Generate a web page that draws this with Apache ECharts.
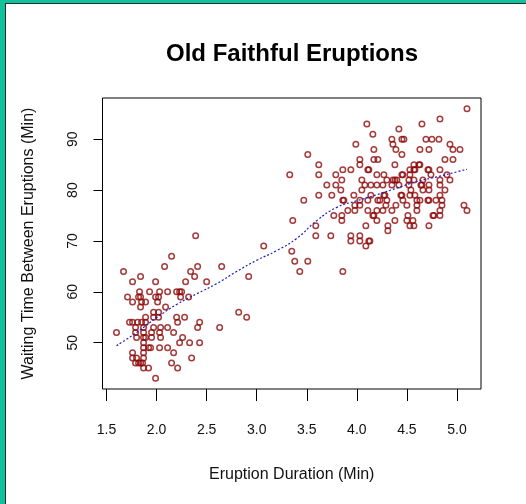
<!DOCTYPE html>
<html>
<head>
<meta charset="utf-8">
<title>Old Faithful Eruptions</title>
<script src="https://cdn.jsdelivr.net/npm/echarts@6.0.0/dist/echarts.min.js"></script>
<style>
  html, body { margin: 0; padding: 0; background: #fff; overflow: hidden; }
  #wrap { position: relative; width: 526px; height: 504px; }
  #chart { position: absolute; left: 0; top: 0; width: 526px; height: 504px; }
  .edge { position: absolute; }
</style>
</head>
<body>
<div id="wrap">
  <div id="chart"></div>
  <div class="edge" style="left:0;top:0;width:526px;height:3px;background:#0fc29b;"></div>
  <div class="edge" style="left:5px;top:3px;width:521px;height:1px;background:#2b2b2b;"></div>
  <div class="edge" style="left:0;top:0;width:5px;height:504px;background:#0fc29b;"></div>
  <div class="edge" style="left:5px;top:3px;width:1px;height:501px;background:#2b2b2b;"></div>
</div>
<script>
// eruption duration (min) / waiting time (min)
const eruptions = [
  2.39, 2.15, 2.08, 2.41, 2.65, 1.67, 2.34, 1.84, 2.38, 2.92,
  1.76, 1.99, 2.29, 2.50, 1.83, 1.93, 2.03, 2.11, 2.20, 2.23,
  2.25, 1.71, 1.82, 1.84, 1.99, 2.02, 2.24, 2.32, 1.76, 1.85,
  1.89, 2.01, 1.84, 2.09, 1.97, 2.02, 2.82, 1.89, 1.97, 2.02,
  2.20, 2.28, 2.90, 1.73, 1.76, 1.81, 1.85, 1.89, 2.21, 2.43,
  1.79, 1.87, 1.97, 2.04, 2.11, 2.41, 2.63, 1.60, 1.79, 1.87,
  1.95, 2.03, 2.17, 1.80, 1.87, 1.89, 1.95, 2.04, 2.26, 1.87,
  2.23, 2.33, 2.43, 1.87, 1.92, 1.94, 2.03, 2.11, 1.76, 1.87,
  2.17, 1.76, 1.80, 1.87, 2.35, 1.79, 1.82, 1.84, 1.86, 2.15,
  1.87, 1.92, 2.21, 1.99,
  3.07, 3.35, 3.38, 3.51, 3.43, 3.86, 3.33, 3.36, 3.47, 3.51,
  3.59, 3.59, 3.62, 3.62, 3.62, 3.70, 3.74, 3.75, 3.77, 3.79,
  3.79, 3.84, 3.85, 3.85, 3.85, 3.86, 3.86, 3.87, 3.91, 3.94,
  3.94, 3.94, 3.97, 3.98, 3.98, 3.99, 4.03, 4.03, 4.03, 4.03,
  4.03, 4.03, 4.05, 4.05, 4.08, 4.09, 4.09, 4.10, 4.11, 4.12,
  4.11, 4.11, 4.12, 4.13, 4.14, 4.14, 4.16, 4.16, 4.17, 4.17,
  4.17, 4.20, 4.20, 4.20, 4.20, 4.21, 4.21, 4.23, 4.26, 4.26,
  4.27, 4.28, 4.27, 4.29, 4.30, 4.30, 4.31, 4.31, 4.35, 4.35,
  4.35, 4.36, 4.36, 4.38, 4.38, 4.38, 4.39, 4.39, 4.40, 4.42,
  4.42, 4.45, 4.45, 4.45, 4.46, 4.45, 4.44, 4.46, 4.47, 4.50,
  4.50, 4.51, 4.52, 4.52, 4.53, 4.53, 4.53, 4.53, 4.54, 4.56,
  4.57, 4.57, 4.58, 4.57, 4.57, 4.58, 4.60, 4.60, 4.60, 4.62,
  4.63, 4.63, 4.63, 4.64, 4.65, 4.65, 4.66, 4.66, 4.69, 4.71,
  4.72, 4.71, 4.72, 4.72, 4.72, 4.72, 4.72, 4.74, 4.75, 4.76,
  4.77, 4.79, 4.82, 4.83, 4.83, 4.83, 4.83, 4.83, 4.83, 4.83,
  4.85, 4.85, 4.88, 4.88, 4.90, 4.93, 4.93, 4.96, 4.96, 5.03,
  5.07, 5.10, 5.10
];
const waiting = [
  71, 67, 65, 65, 65, 64, 64, 63, 63, 63,
  62, 62, 62, 62, 60, 60, 60, 60, 60, 60,
  60, 59, 59, 59, 59, 59, 59, 59, 58, 58,
  58, 58, 57, 57, 56, 56, 56, 55, 55, 55,
  55, 55, 55, 54, 54, 54, 54, 54, 54, 54,
  53, 53, 53, 53, 53, 53, 53, 52, 52, 52,
  52, 52, 52, 51, 51, 51, 51, 51, 51, 50,
  50, 50, 50, 49, 49, 49, 49, 49, 48, 48,
  48, 47, 47, 47, 47, 46, 46, 46, 46, 46,
  45, 45, 45, 43,
  69, 68, 66, 66, 64, 64, 83, 74, 78, 87,
  73, 71, 85, 83, 79, 81, 71, 79, 75, 83,
  81, 80, 82, 75, 74, 84, 78, 78, 76, 84,
  71, 70, 79, 77, 76, 89, 86, 85, 78, 77,
  71, 70, 82, 80, 81, 73, 69, 93, 84, 84,
  78, 76, 70, 70, 81, 79, 91, 75, 75, 88,
  86, 83, 81, 76, 74, 86, 78, 78, 81, 76,
  83, 79, 79, 77, 82, 78, 73, 72, 90, 81,
  76, 89, 82, 85, 82, 74, 88, 77, 82, 92,
  81, 90, 87, 83, 83, 79, 79, 78, 90, 77,
  74, 75, 82, 81, 84, 83, 79, 73, 80, 74,
  85, 84, 84, 82, 73, 79, 78, 77, 76, 85,
  85, 88, 78, 81, 81, 93, 82, 80, 90, 84,
  84, 78, 78, 88, 81, 80, 73, 83, 90, 75,
  75, 78, 90, 94, 84, 82, 81, 79, 76, 75,
  78, 77, 86, 80, 83, 82, 89, 88, 86, 88,
  77, 76, 96
];
// smooth fit drawn as the dashed curve
const fitX = [1.6, 1.8, 2.0, 2.2, 2.4, 2.6, 2.8, 3.0, 3.2, 3.4, 3.6, 3.8, 4.0, 4.2, 4.4, 4.6, 4.8, 5.0, 5.1];
const fitY = [49.4, 52.0, 54.9, 57.5, 59.6, 61.6, 64.0, 66.2, 68.1, 70.5, 74.0, 76.6, 77.9, 79.1, 80.4, 81.7, 82.6, 83.6, 84.1];
const xTicks = [1.5, 2.0, 2.5, 3.0, 3.5, 4.0, 4.5, 5.0];
const yTicks = [50, 60, 70, 80, 90];

const chart = echarts.init(document.getElementById('chart'));
const font = 'Liberation Sans, Arial, sans-serif';

chart.setOption({
  animation: false,
  title: {
    text: 'Old Faithful Eruptions',
    left: 287,
    top: 37,
    textAlign: 'center',
    textStyle: { fontFamily: font, fontSize: 24, fontWeight: 'bold', color: '#000' }
  },
  grid: {
    left: 102.5,
    top: 98,
    width: 378.5,
    height: 291,
    show: true,
    borderColor: '#000',
    borderWidth: 1,
    backgroundColor: 'transparent'
  },
  xAxis: {
    type: 'value',
    min: 1.46,
    max: 5.24,
    name: 'Eruption Duration (Min)',
    nameLocation: 'middle',
    nameGap: 78,
    nameTextStyle: { fontFamily: font, fontSize: 16, color: '#111' },
    axisLine: { show: false },
    splitLine: { show: false },
    axisTick: {
      show: true,
      customValues: xTicks,
      length: 12,
      lineStyle: { color: '#000', width: 1 }
    },
    axisLabel: {
      customValues: xTicks,
      margin: 34,
      fontFamily: font,
      fontSize: 14,
      color: '#111',
      formatter: v => v.toFixed(1)
    }
  },
  yAxis: {
    type: 'value',
    min: 40.88,
    max: 98.12,
    name: 'Waiting Time Between Eruptions (Min)',
    nameLocation: 'middle',
    nameGap: 66,
    nameTextStyle: { fontFamily: font, fontSize: 16, color: '#111' },
    axisLine: { show: false },
    splitLine: { show: false },
    axisTick: {
      show: true,
      customValues: yTicks,
      length: 9,
      lineStyle: { color: '#000', width: 1 }
    },
    axisLabel: {
      customValues: yTicks,
      rotate: 90,
      margin: 22,
      fontFamily: font,
      fontSize: 14,
      color: '#111'
    }
  },
  series: [
    {
      type: 'scatter',
      data: eruptions.map((x, i) => [x, waiting[i]]),
      symbol: 'circle',
      symbolSize: 5.5,
      itemStyle: { color: 'rgba(0,0,0,0)', borderColor: '#8f0a0a', borderWidth: 1.5 }
    },
    {
      type: 'line',
      data: fitX.map((x, i) => [x, fitY[i]]),
      smooth: true,
      showSymbol: false,
      lineStyle: { color: '#1c1cc0', width: 1.2, type: [2, 2] }
    }
  ]
});
</script>
</body>
</html>
